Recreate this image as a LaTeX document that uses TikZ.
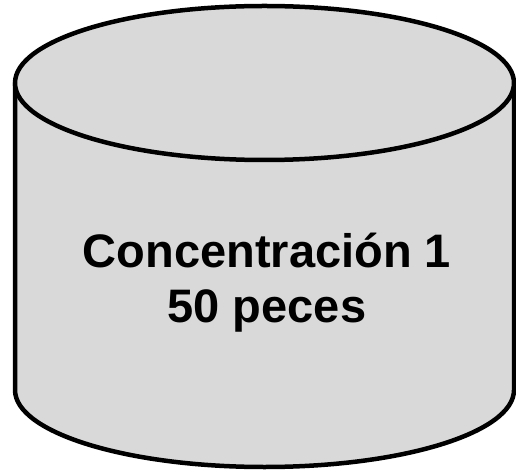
\documentclass[tikz,border=0pt]{standalone}
\usepackage{fontspec}
\setmainfont{Liberation Sans}
\definecolor{cylfill}{HTML}{D9D9D9}
\tikzset{
  cylpart/.style={draw=black, fill=cylfill, line width=4.5pt, line join=round},
  cyltext/.style={font=\fontsize{47}{55}\selectfont\bfseries, align=center, text=black}
}
\begin{document}
\begin{tikzpicture}[x=1pt,y=1pt]
\useasboundingbox (0,0) rectangle (516,474);
% body
\path[cylpart] (15,391) -- (15,84) arc[start angle=180,end angle=360,x radius=249.5,y radius=77] -- (514,391) -- cycle;
% top
\path[cylpart] (264.5,391) ellipse[x radius=249.5,y radius=77];
\node[cyltext] (label) at (267,191) {Concentración 1\\50 peces};
\end{tikzpicture}
\end{document}
